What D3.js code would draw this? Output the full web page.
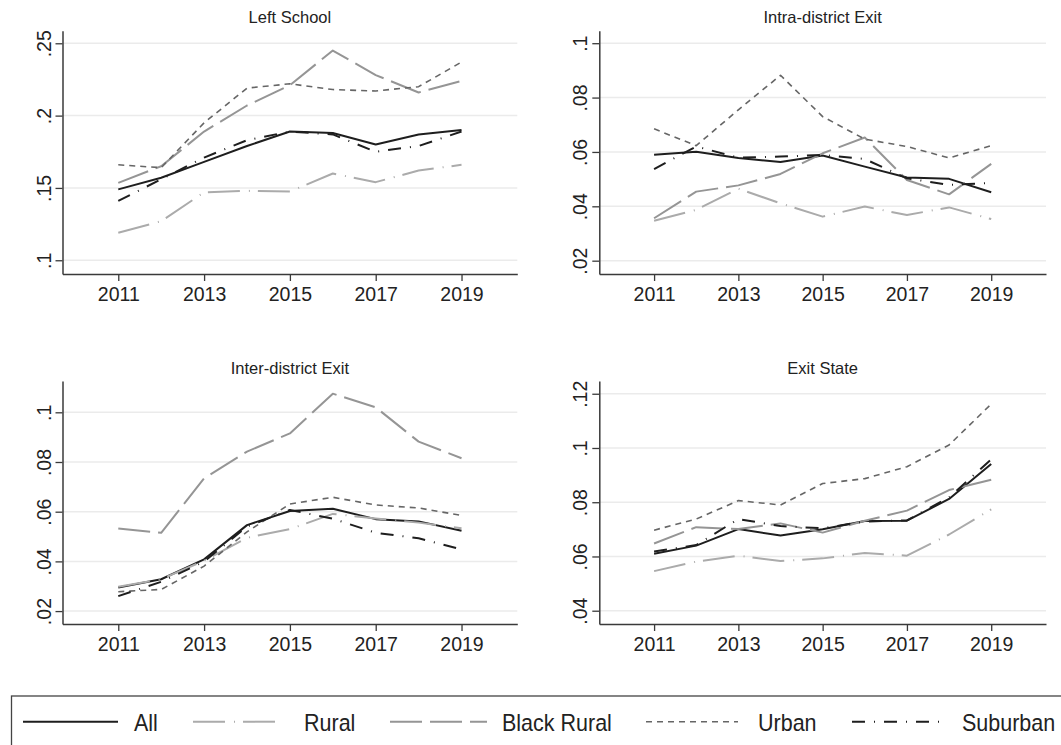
<!DOCTYPE html>
<html>
<head>
<meta charset="utf-8">
<script src="https://cdn.jsdelivr.net/npm/d3@7"></script>
<style>
  html, body { margin: 0; padding: 0; background: #fff; }
  svg { display: block; font-family: "Liberation Sans", Arial, Helvetica, sans-serif; }
</style>
</head>
<body>
<svg id="chart" width="1061" height="745"></svg>
<script>
// School years on the x axis
const years = [2011, 2012, 2013, 2014, 2015, 2016, 2017, 2018, 2019];
const xTicks = [2011, 2013, 2015, 2017, 2019];

// Series names, in drawing order
const seriesNames = ["All", "Rural", "Black Rural", "Urban", "Suburban"];

// Panel titles
const panelTitles = ["Left School", "Intra-district Exit", "Inter-district Exit", "Exit State"];

// Left School rates
const leftAll        = [0.149, 0.157, 0.168, 0.179, 0.189, 0.188, 0.180, 0.187, 0.190];
const leftRural      = [0.119, 0.127, 0.147, 0.148, 0.1475, 0.160, 0.154, 0.162, 0.166];
const leftBlackRural = [0.1535, 0.165, 0.189, 0.207, 0.221, 0.245, 0.228, 0.216, 0.224];
const leftUrban      = [0.166, 0.164, 0.195, 0.219, 0.222, 0.218, 0.217, 0.220, 0.237];
const leftSuburban   = [0.141, 0.156, 0.171, 0.183, 0.189, 0.187, 0.175, 0.179, 0.189];

// Intra-district exit rates
const intraAll        = [0.0590, 0.0601, 0.0578, 0.0563, 0.0587, 0.0546, 0.0506, 0.0501, 0.0452];
const intraRural      = [0.0347, 0.0387, 0.0465, 0.0411, 0.0362, 0.0399, 0.0368, 0.0396, 0.0353];
const intraBlackRural = [0.0356, 0.0454, 0.0477, 0.0519, 0.0595, 0.0653, 0.0497, 0.0444, 0.0556];
const intraUrban      = [0.0685, 0.0623, 0.0755, 0.0882, 0.0730, 0.0647, 0.0620, 0.0578, 0.0623];
const intraSuburban   = [0.0537, 0.0620, 0.0579, 0.0583, 0.0589, 0.0574, 0.0503, 0.0479, 0.0486];

// Inter-district exit rates
const interAll        = [0.0295, 0.0328, 0.0408, 0.0546, 0.0603, 0.0612, 0.0570, 0.0561, 0.0523];
const interRural      = [0.0298, 0.0328, 0.0403, 0.0495, 0.0530, 0.0591, 0.0573, 0.0556, 0.0533];
const interBlackRural = [0.0532, 0.0515, 0.0734, 0.0842, 0.0915, 0.1075, 0.1020, 0.0882, 0.0815];
const interUrban      = [0.0278, 0.0287, 0.0381, 0.0519, 0.0631, 0.0658, 0.0627, 0.0615, 0.0585];
const interSuburban   = [0.0260, 0.0318, 0.0399, 0.0540, 0.0607, 0.0572, 0.0515, 0.0493, 0.0448];

// Exit state rates
const stateAll        = [0.0610, 0.0640, 0.0701, 0.0677, 0.0700, 0.0731, 0.0732, 0.0812, 0.0941];
const stateRural      = [0.0546, 0.0581, 0.0603, 0.0583, 0.0593, 0.0613, 0.0603, 0.0681, 0.0774];
const stateBlackRural = [0.0648, 0.0708, 0.0701, 0.0722, 0.0688, 0.0732, 0.0769, 0.0845, 0.0883];
const stateUrban      = [0.0697, 0.0738, 0.0806, 0.0790, 0.0869, 0.0887, 0.0931, 0.1011, 0.1162];
const stateSuburban   = [0.0618, 0.0642, 0.0738, 0.0712, 0.0704, 0.0729, 0.0733, 0.0818, 0.0958];

// Y tick values per panel
const leftTicks  = [0.10, 0.15, 0.20, 0.25];
const intraTicks = [0.02, 0.04, 0.06, 0.08, 0.10];
const interTicks = [0.02, 0.04, 0.06, 0.08, 0.10];
const stateTicks = [0.04, 0.06, 0.08, 0.10, 0.12];

// Line styles per series
const styles = {
  "All":         { color: "#1e1e1e", width: 2.0, dash: null },
  "Rural":       { color: "#ababab", width: 2.0, dash: "32,9,1,8" },
  "Black Rural": { color: "#959595", width: 2.0, dash: "32,8" },
  "Urban":       { color: "#666666", width: 1.6, dash: "6,5" },
  "Suburban":    { color: "#1e1e1e", width: 2.0, dash: "13,9,1,9" }
};

const panels = [
  { title: panelTitles[0], ticks: leftTicks,  yDomain: [0.0905, 0.2587],
    series: [leftAll, leftRural, leftBlackRural, leftUrban, leftSuburban],
    box: { x0: 62.5, x1: 517.3, y0: 30.7, y1: 274 } },
  { title: panelTitles[1], ticks: intraTicks, yDomain: [0.0151, 0.1046],
    series: [intraAll, intraRural, intraBlackRural, intraUrban, intraSuburban],
    box: { x0: 599.3, x1: 1046, y0: 30.7, y1: 274 } },
  { title: panelTitles[2], ticks: interTicks, yDomain: [0.0148, 0.1126],
    series: [interAll, interRural, interBlackRural, interUrban, interSuburban],
    box: { x0: 62.5, x1: 517.3, y0: 381, y1: 624 } },
  { title: panelTitles[3], ticks: stateTicks, yDomain: [0.0351, 0.1247],
    series: [stateAll, stateRural, stateBlackRural, stateUrban, stateSuburban],
    box: { x0: 599.3, x1: 1046, y0: 381, y1: 624 } }
];

const svg = d3.select("#chart");
const fmt = v => d3.format(".2~f")(v).replace(/^0\./, ".");

panels.forEach(p => {
  const b = p.box;
  const x = d3.scaleLinear().domain([2009.7, 2020.3]).range([b.x0, b.x1]);
  const y = d3.scaleLinear().domain(p.yDomain).range([b.y1, b.y0]);
  const g = svg.append("g");

  // horizontal grid
  g.append("g").selectAll("line").data(p.ticks).join("line")
    .attr("x1", b.x0).attr("x2", b.x1)
    .attr("y1", d => y(d)).attr("y2", d => y(d))
    .attr("stroke", "#ebebeb").attr("stroke-width", 1.5);

  // x axis
  const xAxis = g.append("g").attr("transform", `translate(0,${b.y1})`)
    .call(d3.axisBottom(x).tickValues(xTicks).tickFormat(d3.format("d"))
      .tickSizeInner(7).tickSizeOuter(0).tickPadding(6));
  xAxis.select(".domain").attr("stroke", "#3a3a3a").attr("stroke-width", 1.5);
  xAxis.selectAll(".tick line").attr("stroke", "#3a3a3a").attr("stroke-width", 1.3);
  xAxis.selectAll(".tick text").attr("font-size", 19.5).attr("fill", "#222")
    .attr("font-family", "Liberation Sans, Arial, sans-serif");

  // y axis with rotated labels
  const yAxis = g.append("g").attr("transform", `translate(${b.x0},0)`)
    .call(d3.axisLeft(y).tickValues(p.ticks).tickFormat(fmt)
      .tickSizeInner(7).tickSizeOuter(0));
  yAxis.select(".domain").attr("stroke", "#3a3a3a").attr("stroke-width", 1.5);
  yAxis.selectAll(".tick line").attr("stroke", "#3a3a3a").attr("stroke-width", 1.3);
  yAxis.selectAll(".tick text")
    .attr("font-size", 19.5).attr("fill", "#222")
    .attr("font-family", "Liberation Sans, Arial, sans-serif")
    .attr("x", null).attr("dy", null)
    .attr("text-anchor", "middle")
    .attr("transform", "translate(-12,0) rotate(-90)");

  // title
  g.append("text")
    .attr("x", (b.x0 + b.x1) / 2).attr("y", b.y0 - 7.5)
    .attr("text-anchor", "middle").attr("font-size", 16.5).attr("fill", "#222")
    .text(p.title);

  // series lines
  const line = d3.line().x((d, i) => x(years[i])).y(d => y(d));
  p.series.forEach((vals, si) => {
    const st = styles[seriesNames[si]];
    g.append("path").datum(vals)
      .attr("d", line)
      .attr("fill", "none")
      .attr("stroke", st.color)
      .attr("stroke-width", st.width)
      .attr("stroke-dasharray", st.dash)
      .attr("stroke-linejoin", "round");
  });
});

// legend
const legend = svg.append("g");
legend.append("rect")
  .attr("x", 11.5).attr("y", 696).attr("width", 1060).attr("height", 80)
  .attr("fill", "none").attr("stroke", "#444").attr("stroke-width", 1.3);

const legendItems = [
  { name: "All",         x0: 23,  x1: 118, tx: 134 },
  { name: "Rural",       x0: 193, x1: 284, tx: 304 },
  { name: "Black Rural", x0: 390, x1: 487, tx: 502 },
  { name: "Urban",       x0: 646, x1: 738, tx: 758 },
  { name: "Suburban",    x0: 852, x1: 946, tx: 962 }
];
legendItems.forEach(it => {
  const st = styles[it.name];
  legend.append("line")
    .attr("x1", it.x0).attr("x2", it.x1).attr("y1", 721.7).attr("y2", 721.7)
    .attr("stroke", st.color).attr("stroke-width", st.width)
    .attr("stroke-dasharray", st.dash);
  legend.append("text")
    .attr("transform", `translate(${it.tx},731) scale(1,1.1)`)
    .attr("font-size", 21.5).attr("fill", "#222")
    .text(it.name);
});
</script>
</body>
</html>
